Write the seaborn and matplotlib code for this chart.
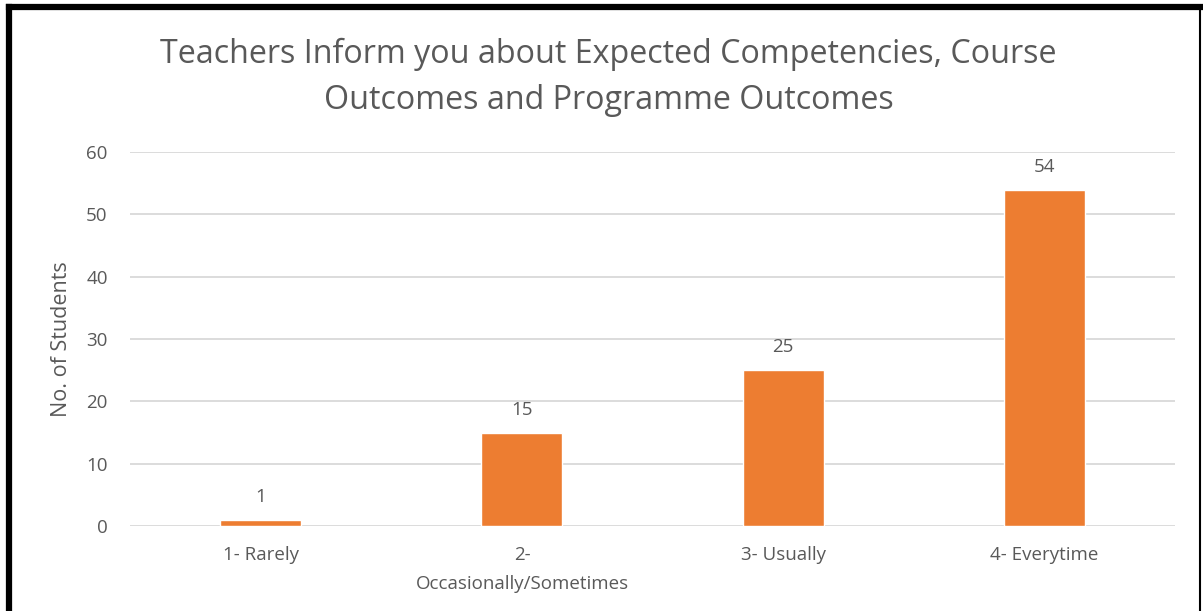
import matplotlib
matplotlib.use("Agg")
import matplotlib.pyplot as plt
import seaborn as sns
import pandas as pd
from matplotlib.lines import Line2D

categories = ["1- Rarely", "2-\nOccasionally/Sometimes", "3- Usually", "4- Everytime"]
values = [1, 15, 25, 54]
yticks = [0, 10, 20, 30, 40, 50, 60]

sns.set_theme(style="white")
plt.rcParams['font.family'] = ['Open Sans', 'DejaVu Sans']
txt = "#595959"

df = pd.DataFrame({"cat": categories, "val": values})
fig = plt.figure(figsize=(12.03, 6.11), dpi=100)
ax = fig.add_axes([0.108, 0.139, 0.869, 0.612])
sns.barplot(data=df, x="cat", y="val", color="#ED7D31", width=0.31, saturation=1, ax=ax)
ax.set_ylim(0, 60)
ax.set_yticks(yticks)
ax.yaxis.grid(True, color="#D9D9D9", linewidth=1.3)
ax.set_axisbelow(True)
for s in ax.spines.values():
    s.set_visible(False)
ax.tick_params(axis="both", length=0, labelsize=13.5, colors=txt)
ax.tick_params(axis="y", pad=16)
ax.tick_params(axis="x", pad=14)
ax.set_xlabel("")
ax.set_ylabel("No. of Students", fontsize=15.5, color=txt, labelpad=10)
for lab in ax.get_xticklabels():
    lab.set_linespacing(1.85)
for c in ax.containers:
    ax.bar_label(c, padding=10, fontsize=13.5, color=txt)
fig.text(0.506, 0.873, "Teachers Inform you about Expected Competencies, Course\nOutcomes and Programme Outcomes",
         ha="center", va="center", fontsize=23.2, color=txt, linespacing=1.5)
# frame border: thick left & top, thin right
fig.lines.append(Line2D([0.0075, 0.0075], [0, 0.988], transform=fig.transFigure, color="black", linewidth=4.5, solid_capstyle="projecting"))
fig.lines.append(Line2D([0.0075, 0.9975], [0.988, 0.988], transform=fig.transFigure, color="black", linewidth=4.5, solid_capstyle="projecting"))
fig.lines.append(Line2D([0.9975, 0.9975], [0, 0.988], transform=fig.transFigure, color="black", linewidth=1.5))
fig.savefig("out.png", dpi=100)
